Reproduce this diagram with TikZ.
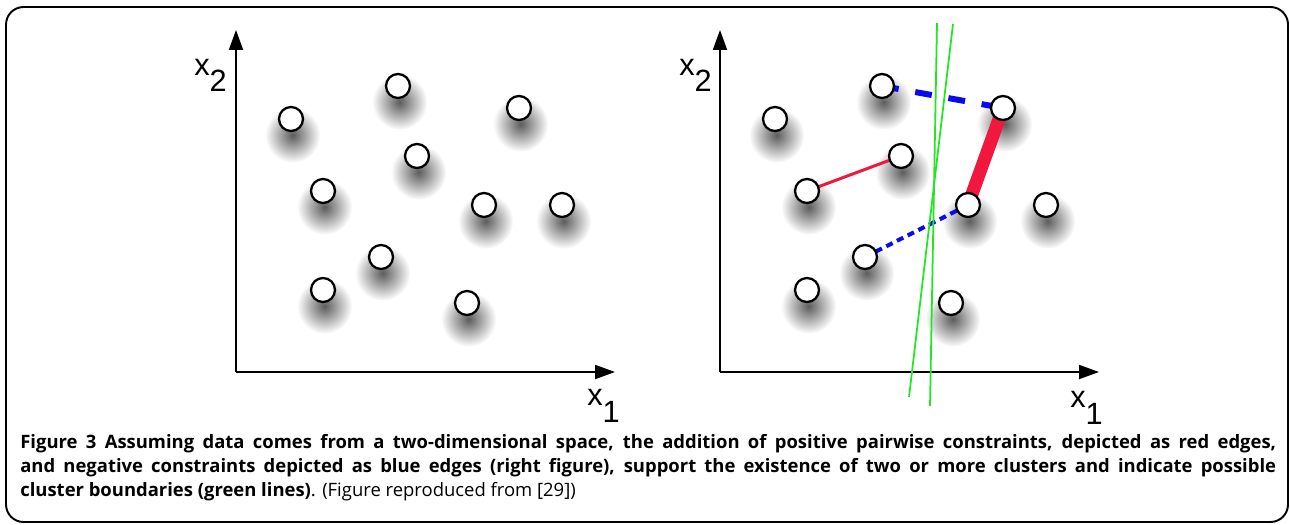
\documentclass[tikz,border=0pt]{standalone}
\usepackage{fontspec}
\setmainfont{Open Sans}
\newfontfamily\axisfont{Liberation Sans}
\usetikzlibrary{arrows.meta,shadows,fadings,backgrounds}
\definecolor{EdgeRed}{HTML}{F0183F}
\definecolor{EdgeBlue}{HTML}{0A0AF0}
\definecolor{CutGreen}{HTML}{22E622}
\tikzfading[name=softdot,inner color=transparent!0,outer color=transparent!100]
\pgfdeclarelayer{shade}
\pgfsetlayers{shade,background,main}

\tikzset{
  datapt/.style={circle,draw=black,fill=white,line width=1.3pt,
    minimum size=0.48cm,inner sep=0pt},
  ptshade/.style={circle,minimum size=0.48cm,inner sep=0pt,
    general shadow={shadow scale=2.3,shadow xshift=0.4pt,shadow yshift=-4pt,
      fill=black!85,path fading=softdot,opacity=0.75}},
  axis/.style={line width=1.1pt,-{Triangle[length=0.4cm,width=0.28cm]}},
  axlabel/.style={anchor=base west,inner sep=0pt,
    font=\axisfont\fontsize{17.5}{20}\selectfont},
  poslink/.style={color=EdgeRed},
  neglink/.style={color=EdgeBlue},
  boundary/.style={color=CutGreen,line width=1pt},
}

\begin{document}
\begin{tikzpicture}[x=0.02cm,y=-0.02cm]
  \useasboundingbox (0,0) rectangle (1290,524);
  \draw[line width=1.1pt,rounded corners=10pt] (6,7) rectangle (1288,522);

  % axes
  \coordinate (lo) at (236,372);
  \coordinate (ro) at (720,372);
  \draw[axis] (lo) -- (236,30);
  \draw[axis] (lo) -- (615,372);
  \draw[axis] (ro) -- (720,30);
  \draw[axis] (ro) -- (1099,372);
  \node[axlabel] (lx2) at (194,75) {x\raisebox{-0.34cm}{2}};
  \node[axlabel] (lx1) at (587,405) {x\raisebox{-0.34cm}{1}};
  \node[axlabel] (rx2) at (679,75) {x\raisebox{-0.34cm}{2}};
  \node[axlabel] (rx1) at (1070,407) {x\raisebox{-0.34cm}{1}};

  % data points, same set in both panels
  \foreach \i/\px/\py in {1/291/119,2/398/86,3/519/108,4/417/156,5/323/191,
                          6/484/205,7/562/205,8/381/257,9/323/290,10/467/303}{
    \begin{pgfonlayer}{shade}
      \node[ptshade] (LS\i) at (\px,\py) {};
      \node[ptshade] (RS\i) at (\px+484,\py) {};
    \end{pgfonlayer}
    \node[datapt] (L\i) at (\px,\py) {};
    \node[datapt] (R\i) at (\px+484,\py) {};
  }

  % pairwise constraints
  \begin{scope}[on background layer]
    \draw[neglink,line width=3.4pt,dash pattern=on 9.6pt off 9.6pt]
      (R2.center) -- (R3.center);
    \draw[neglink,line width=2.3pt,dash pattern=on 4pt off 2.8pt]
      (R8.center) -- (R6.center);
    \draw[poslink,line width=1.7pt] (R5.center) -- (R4.center);
    \draw[poslink,line width=7.4pt] (R6.center) -- (R3.center);
  \end{scope}

  % cluster boundaries
  \coordinate (ga) at (909,397);
  \coordinate (gb) at (953,24);
  \coordinate (gc) at (930,406);
  \coordinate (gd) at (937,23);
  \draw[boundary] (ga) -- (gb);
  \draw[boundary] (gc) -- (gd);

  % caption
  \node[anchor=north west,inner sep=0pt,text width=25.12cm,align=justify,
        font=\fontsize{10.5}{13.6}\selectfont] (cap) at (20,434)
    {\bfseries Figure 3 Assuming data comes from a two-dimensional space, the addition of positive pairwise constraints, depicted as red edges,\linebreak
     and negative constraints depicted as blue edges (right figure), support the existence of two or more clusters and indicate possible\linebreak
     cluster boundaries (green lines)\mdseries. (Figure reproduced from [29])};
\end{tikzpicture}
\end{document}
